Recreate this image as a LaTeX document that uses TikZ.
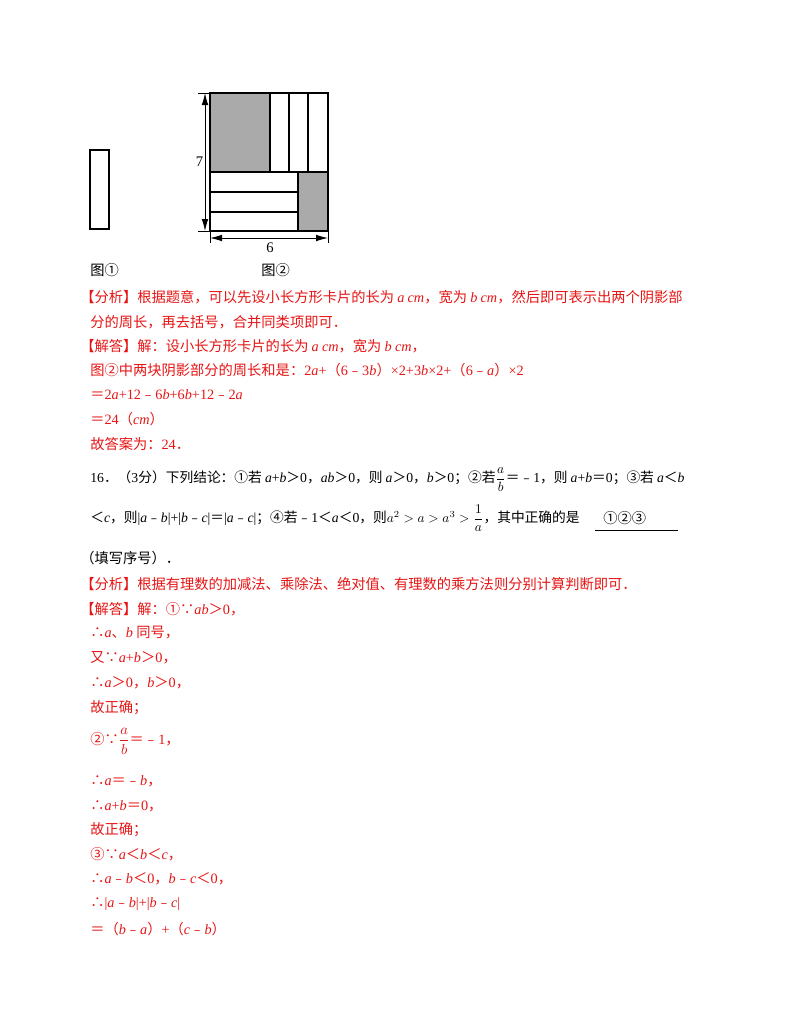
\documentclass[tikz,border=0pt]{standalone}
\usepackage{amsmath}
\usepackage{fontspec}
\setmainfont{Liberation Serif}
\newfontfamily\cjk{Noto Sans CJK SC}
\usetikzlibrary{arrows.meta}
\newcommand{\vv}[1]{{\rmfamily\itshape #1}}
\newcommand{\mi}{{\cjk ﹣}}
\definecolor{ansred}{RGB}{230,20,20}
\definecolor{shadegray}{RGB}{170,170,170}
\begin{document}
\begin{tikzpicture}[x=0.75pt,y=-0.75pt,
  txt/.style={anchor=west,inner sep=0pt,font=\cjk\fontsize{10.7}{12}\selectfont},
  txs/.style={anchor=west,inner sep=0pt,font=\cjk\fontsize{10.3}{12}\selectfont},
  red/.style={txt,text=ansred},
  fig/.style={draw,line width=0.8pt},
  dim/.style={line width=0.7pt,{Latex[length=9pt,width=5pt]}-{Latex[length=9pt,width=5pt]}}]
\useasboundingbox (0,0) rectangle (800,1035);
% figure 1
\draw[fig] (90,150) rectangle (109,229);
% figure 2
\fill[shadegray] (210,93) rectangle (270,172);
\fill[shadegray] (298,172) rectangle (328,231);
\draw[fig] (210,93) rectangle (328,231);
\draw[fig] (270,93) -- (270,172) (289,93) -- (289,172) (308,93) -- (308,172);
\draw[fig] (210,172) -- (328,172);
\draw[fig] (210,192) -- (298,192) (210,212) -- (298,212) (298,172) -- (298,231);
\draw[line width=0.6pt] (198,93) -- (210,93) (198,231) -- (210,231);
\draw[line width=0.6pt] (210,231) -- (210,243) (328,231) -- (328,243);
\coordinate (t7) at (205,93); \coordinate (b7) at (205,231);
\coordinate (l6) at (210,238); \coordinate (r6) at (328,238);
\draw[dim] (t7) -- node[left,inner sep=1pt,font=\fontsize{11}{12}\selectfont] {7} (b7);
\draw[dim] (l6) -- (r6);
\node[inner sep=0pt,font=\fontsize{11}{12}\selectfont] (six) at (270,248) {6};
\node[txt] (f1) at (90,270) {图①};
\node[txt] (f2) at (261,270) {图②};
% answer 15
\node[red] (r1) at (80,297) {【分析】根据题意，可以先设小长方形卡片的长为 \vv{a} \vv{cm}，宽为 \vv{b} \vv{cm}，然后即可表示出两个阴影部};
\node[red] (r2) at (90,322) {分的周长，再去括号，合并同类项即可．};
\node[red] (r3) at (80,346) {【解答】解：设小长方形卡片的长为 \vv{a} \vv{cm}，宽为 \vv{b} \vv{cm}，};
\node[red] (r4) at (90,370) {图②中两块阴影部分的周长和是：{\rmfamily 2}\vv{a}{\rmfamily +}（{\rmfamily 6}\mi{\rmfamily 3}\vv{b}）{\rmfamily ×2+3}\vv{b}{\rmfamily ×2+}（{\rmfamily 6}\mi\vv{a}）{\rmfamily ×2}};
\node[red] (r5) at (90,395) {＝{\rmfamily 2}\vv{a}{\rmfamily +12}\mi{\rmfamily 6}\vv{b}{\rmfamily +6}\vv{b}{\rmfamily +12}\mi{\rmfamily 2}\vv{a}};
\node[red] (r6) at (90,419) {＝{\rmfamily 24}（\vv{cm}）};
\node[red] (r7) at (90,444) {故答案为：{\rmfamily 24}．};
% question 16
\node[txs] (q1) at (90,480) {{\rmfamily 16}．（{\rmfamily 3}分）下列结论：①若 \vv{a}{\rmfamily +}\vv{b}＞{\rmfamily 0}，\vv{ab}＞{\rmfamily 0}，则 \vv{a}＞{\rmfamily 0}，\vv{b}＞{\rmfamily 0}；②若$\dfrac{a}{b}$＝\mi{\rmfamily 1}，则 \vv{a}{\rmfamily +}\vv{b}＝{\rmfamily 0}；③若 \vv{a}＜\vv{b}};
\node[txs] (q2) at (90,518) {＜\vv{c}，则{\rmfamily |}\vv{a}\mi\vv{b}{\rmfamily |+|}\vv{b}\mi\vv{c}{\rmfamily |}＝{\rmfamily |}\vv{a}\mi\vv{c}{\rmfamily |}；④若\mi{\rmfamily 1}＜\vv{a}＜{\rmfamily 0}，则$a^2>a>a^3>\dfrac{1}{a}$，其中正确的是};
\node[txt] (ans) at (603,518) {①②③};
\draw[line width=0.6pt] (595,530) -- (678,530);
\node[txt] (q3) at (80,558) {（填写序号）．};
\node[red] (s1) at (80,584) {【分析】根据有理数的加减法、乘除法、绝对值、有理数的乘方法则分别计算判断即可．};
\node[red] (s2) at (80,609) {【解答】解：①∵\vv{ab}＞{\rmfamily 0}，};
\node[red] (s3) at (90,633) {∴\vv{a}、\vv{b} 同号，};
\node[red] (s4) at (90,658) {又∵\vv{a}{\rmfamily +}\vv{b}＞{\rmfamily 0}，};
\node[red] (s5) at (90,683) {∴\vv{a}＞{\rmfamily 0}，\vv{b}＞{\rmfamily 0}，};
\node[red] (s6) at (90,708) {故正确；};
\node[red] (s7) at (90,741) {②∵$\dfrac{a}{b}$＝\mi{\rmfamily 1}，};
\node[red] (s8) at (90,781) {∴\vv{a}＝\mi\vv{b}，};
\node[red] (s9) at (90,806) {∴\vv{a}{\rmfamily +}\vv{b}＝{\rmfamily 0}，};
\node[red] (s10) at (90,830) {故正确；};
\node[red] (s11) at (90,854) {③∵\vv{a}＜\vv{b}＜\vv{c}，};
\node[red] (s12) at (90,879) {∴\vv{a}\mi\vv{b}＜{\rmfamily 0}，\vv{b}\mi\vv{c}＜{\rmfamily 0}，};
\node[red] (s13) at (90,904) {∴{\rmfamily |}\vv{a}\mi\vv{b}{\rmfamily |+|}\vv{b}\mi\vv{c}{\rmfamily |}};
\node[red] (s14) at (90,929) {＝（\vv{b}\mi\vv{a}）{\rmfamily +}（\vv{c}\mi\vv{b}）};
\end{tikzpicture}
\end{document}
